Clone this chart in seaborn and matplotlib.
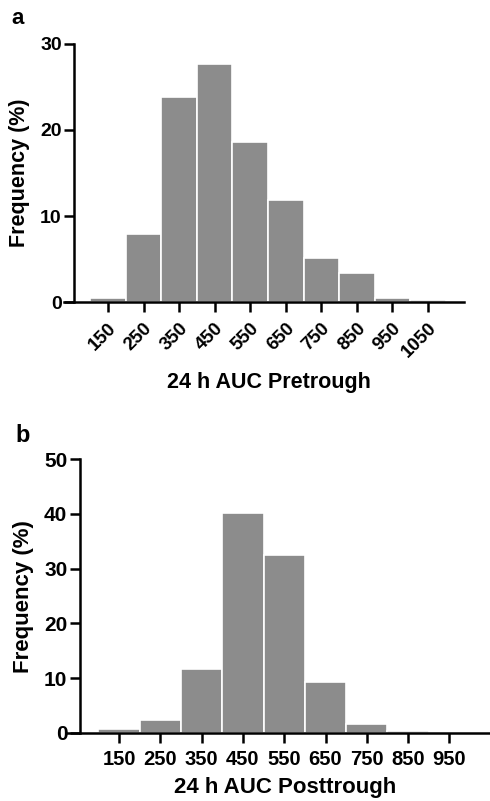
import pandas as pd
import matplotlib
matplotlib.use("Agg")
import matplotlib.pyplot as plt
import seaborn as sns

# ── Data ─────────────────────────────────────────────────────────────────────
pre_centers = [150, 250, 350, 450, 550, 650, 750, 850, 950, 1050]
pre_freq = [0.45, 7.9, 23.8, 27.6, 18.6, 11.9, 5.15, 3.4, 0.5, 0.25]

post_centers = [150, 250, 350, 450, 550, 650, 750, 850, 950]
post_freq = [0.6, 2.3, 11.7, 40.2, 32.5, 9.3, 1.5, 0.3, 0.0]

BIN_W = 100
BAR_COLOR = "#8c8c8c"

sns.set_style("ticks")
plt.rcParams.update({
    "font.family": ["Liberation Sans", "DejaVu Sans"],
    "font.weight": "bold",
    "text.color": "black",
    "axes.labelcolor": "black",
    "xtick.color": "black",
    "ytick.color": "black",
})

W, H = 490, 801
fig = plt.figure(figsize=(W / 100, H / 100), dpi=100)


def px_axes(left, top, right, bottom):
    return fig.add_axes([left / W, 1 - bottom / H, (right - left) / W, (bottom - top) / H])


def hist(ax, centers, freq):
    df = pd.DataFrame({"auc": centers, "freq": freq})
    sns.histplot(data=df, x="auc", weights="freq", binwidth=BIN_W,
                 binrange=(centers[0] - BIN_W / 2, centers[-1] + BIN_W / 2),
                 ax=ax, color=BAR_COLOR, alpha=1, edgecolor="white", linewidth=1.2)


def style(ax, xlim, ylim, yticks, centers, ysize):
    ax.set_xlim(*xlim)
    ax.set_ylim(*ylim)
    ax.set_yticks(yticks)
    ax.set_xticks(centers)
    for s in ["top", "right"]:
        ax.spines[s].set_visible(False)
    ax.spines["left"].set_position(("data", 55))
    for s in ["left", "bottom"]:
        ax.spines[s].set_linewidth(1.8)
        ax.spines[s].set_color("black")
    ax.tick_params(axis="both", width=1.8, length=7, color="black", pad=2)
    ax.tick_params(axis="x", length=7.5)
    ax.set_yticklabels([str(t) for t in yticks], fontweight="bold", fontsize=ysize)
    ax.set_ylabel("")
    ax.set_xlabel("")


# ── Panel a ──────────────────────────────────────────────────────────────────
ax1 = px_axes(63.6, 43.7, 463.6, 302.3)
hist(ax1, pre_centers, pre_freq)
style(ax1, (25, 1150), (0, 30), [0, 10, 20, 30], pre_centers, 14)
ax1.set_xticklabels([str(c) for c in pre_centers], rotation=45, ha="right",
                    rotation_mode="anchor", fontweight="bold", fontsize=13.5)
ax1.tick_params(axis="x", pad=5)
fig.text(20 / W, 1 - 173 / H, "Frequency (%)", rotation=90, ha="center",
         va="center", fontsize=15.5, fontweight="bold")
fig.text(269 / W, 1 - 382 / H, "24 h AUC Pretrough", ha="center", va="center",
         fontsize=15.5, fontweight="bold")
fig.text(11 / W, 1 - 19 / H, "a", ha="left", va="center", fontsize=16,
         fontweight="bold")

# ── Panel b ──────────────────────────────────────────────────────────────────
ax2 = px_axes(67.4, 459.3, 490.7, 732.7)
hist(ax2, post_centers, post_freq)
style(ax2, (25, 1050), (0, 50), [0, 10, 20, 30, 40, 50], post_centers, 15)
ax2.set_xticklabels([str(c) for c in post_centers], fontweight="bold", fontsize=14.5)
ax2.tick_params(axis="x", pad=5)
fig.text(24 / W, 1 - 597 / H, "Frequency (%)", rotation=90, ha="center",
         va="center", fontsize=16, fontweight="bold")
fig.text(285 / W, 1 - 788 / H, "24 h AUC Posttrough", ha="center", va="center",
         fontsize=16, fontweight="bold")
fig.text(15 / W, 1 - 436 / H, "b", ha="left", va="center", fontsize=17,
         fontweight="bold")

fig.savefig("out.png", dpi=100)
